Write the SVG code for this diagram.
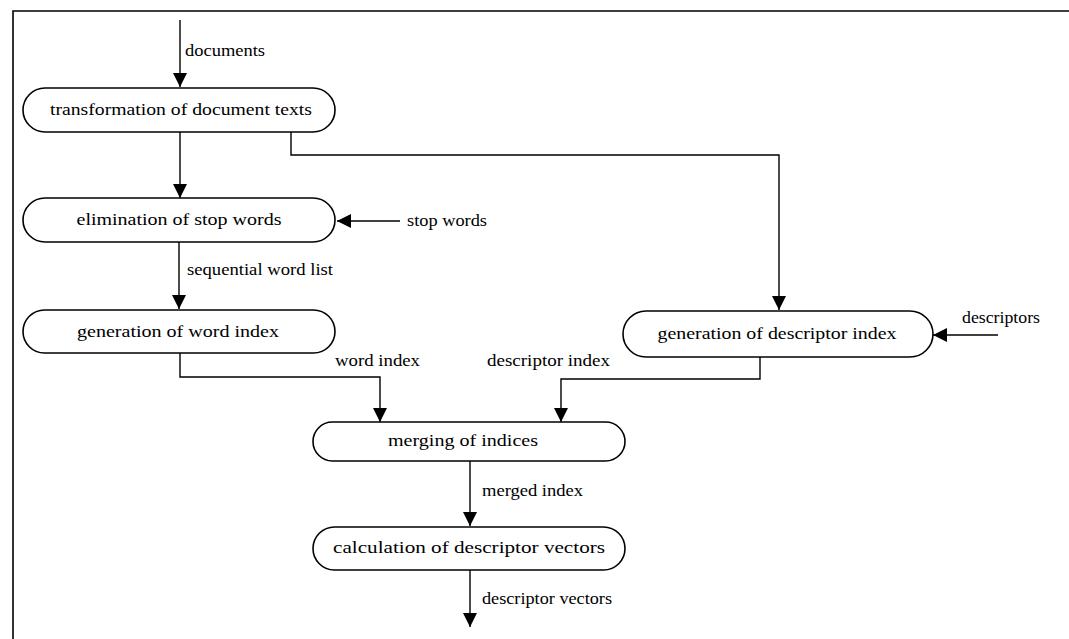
<svg xmlns="http://www.w3.org/2000/svg" width="1069" height="639" viewBox="0 0 1069 639">
<defs>
<style>
.node{fill:#fff;stroke:#000;stroke-width:1.6}
.lbl{font-family:"Liberation Serif",serif;font-size:16px;fill:#000}
.nt{font-family:"Liberation Serif",serif;font-size:16px;fill:#000;text-anchor:middle}
.c{fill:none;stroke:#000;stroke-width:1.4}
</style>
<marker id="ah" viewBox="0 0 10 10" refX="10" refY="5" markerWidth="14" markerHeight="14" markerUnits="userSpaceOnUse" orient="auto">
<path d="M0,0 L10,5 L0,10 Z" fill="#000"/>
</marker>
</defs>
<rect width="1069" height="639" fill="#fff"/>
<path d="M13,639 V11 H1069" fill="none" stroke="#000" stroke-width="1.6"/>
<g id="connectors">
<path class="c" d="M180,20 V87" marker-end="url(#ah)"/>
<path class="c" d="M180,132 V198" marker-end="url(#ah)"/>
<path class="c" d="M291,132 V155 H779 V310" marker-end="url(#ah)"/>
<path class="c" d="M400,221 H337" marker-end="url(#ah)"/>
<path class="c" d="M179,242 V309" marker-end="url(#ah)"/>
<path class="c" d="M998,335 H933" marker-end="url(#ah)"/>
<path class="c" d="M180,353 V377 H380 V422" marker-end="url(#ah)"/>
<path class="c" d="M760,357 V379 H561 V422" marker-end="url(#ah)"/>
<path class="c" d="M470,460 V526" marker-end="url(#ah)"/>
<path class="c" d="M470,570 V627" marker-end="url(#ah)"/>
<text class="lbl" x="185" y="56" textLength="80" lengthAdjust="spacingAndGlyphs">documents</text>
<text class="lbl" x="407" y="226" textLength="80" lengthAdjust="spacingAndGlyphs">stop words</text>
<text class="lbl" x="187" y="275" textLength="146" lengthAdjust="spacingAndGlyphs">sequential word list</text>
<text class="lbl" x="335" y="366" textLength="85" lengthAdjust="spacingAndGlyphs">word index</text>
<text class="lbl" x="487" y="366" textLength="123" lengthAdjust="spacingAndGlyphs">descriptor index</text>
<text class="lbl" x="962" y="323" textLength="78" lengthAdjust="spacingAndGlyphs">descriptors</text>
<text class="lbl" x="482" y="496" textLength="101" lengthAdjust="spacingAndGlyphs">merged index</text>
<text class="lbl" x="482" y="604" textLength="130" lengthAdjust="spacingAndGlyphs">descriptor vectors</text>
</g>
<g id="n1">
<rect class="node" x="23" y="88" width="312" height="44" rx="22"/>
<text class="nt" x="181" y="115" textLength="262" lengthAdjust="spacingAndGlyphs">transformation of document texts</text>
</g>
<g id="n2">
<rect class="node" x="23" y="198" width="312" height="44" rx="22"/>
<text class="nt" x="179" y="225" textLength="205" lengthAdjust="spacingAndGlyphs">elimination of stop words</text>
</g>
<g id="n3">
<rect class="node" x="23" y="310" width="312" height="43" rx="21.5"/>
<text class="nt" x="178" y="337" textLength="202" lengthAdjust="spacingAndGlyphs">generation of word index</text>
</g>
<g id="n4">
<rect class="node" x="623" y="311" width="310" height="46" rx="23"/>
<text class="nt" x="777" y="339" textLength="239" lengthAdjust="spacingAndGlyphs">generation of descriptor index</text>
</g>
<g id="n5">
<rect class="node" x="313" y="422" width="312" height="39" rx="19.5"/>
<text class="nt" x="463" y="446" textLength="150" lengthAdjust="spacingAndGlyphs">merging of indices</text>
</g>
<g id="n6">
<rect class="node" x="313" y="527" width="312" height="43" rx="21.5"/>
<text class="nt" x="469" y="553" textLength="272" lengthAdjust="spacingAndGlyphs">calculation of descriptor vectors</text>
</g>
</svg>
